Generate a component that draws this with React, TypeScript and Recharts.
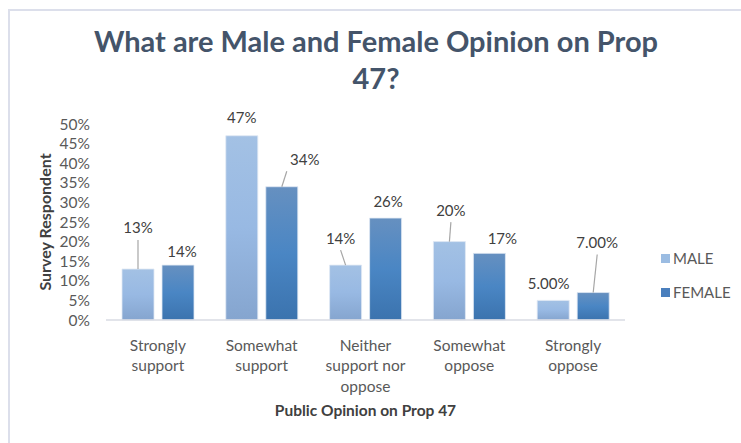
import { Bar, BarChart, LabelList, Legend, XAxis, YAxis } from "recharts";

const categories = [
  "Strongly support",
  "Somewhat support",
  "Neither support nor oppose",
  "Somewhat oppose",
  "Strongly oppose",
];
const maleValues = [13, 47, 14, 20, 5];
const femaleValues = [14, 34, 26, 17, 7];
const maleLabels = ["13%", "47%", "14%", "20%", "5.00%"];
const femaleLabels = ["14%", "34%", "26%", "17%", "7.00%"];
const yTicks = [0, 5, 10, 15, 20, 25, 30, 35, 40, 45, 50];

const data = categories.map((name, i) => ({
  name,
  male: maleValues[i],
  female: femaleValues[i],
}));

// where each data label sits relative to the top centre of its bar: [dx, dy, leader line]
const malePlacement: Array<[number, number, boolean]> = [
  [0, -41, true],
  [0, -18, false],
  [-5, -27, true],
  [1.5, -31.5, true],
  [-4.5, -16.5, false],
];
const femalePlacement: Array<[number, number, boolean]> = [
  [4, -14, false],
  [23, -27.5, true],
  [2.5, -16.5, false],
  [13, -15, false],
  [4, -50, true],
];

const FONT = "Lato, 'Open Sans', sans-serif";
const seriesOrder = ["male", "female"];
const swatch: Record<string, string> = { male: "#9bbce2", female: "#4a7fbd" };

function wrapWords(text: string, max: number) {
  const lines: string[] = [];
  let cur = "";
  for (const w of text.split(" ")) {
    const next = cur ? cur + " " + w : w;
    if (next.length > max && cur) {
      lines.push(cur);
      cur = w;
    } else cur = next;
  }
  if (cur) lines.push(cur);
  return lines;
}

function CategoryTick({ x, y, payload }: any) {
  const lines = wrapWords(payload.value, 11);
  return (
    <text x={x} y={y} textAnchor="middle" fill="#595959" fontSize={15.5} fontFamily={FONT}>
      {lines.map((l, i) => (
        <tspan key={i} x={x} y={y + 22.5 + i * 20.5}>
          {l}
        </tspan>
      ))}
    </text>
  );
}

function makeLabel(texts: string[], placement: Array<[number, number, boolean]>) {
  return (props: any) => {
    const { x, y, width, index } = props;
    const [dx, dy, leader] = placement[index];
    const cx = Number(x) + Number(width) / 2;
    const top = Number(y);
    const lx = cx + dx;
    const ly = top + dy;
    const endX = cx + Math.sign(dx) * Math.min(Math.abs(dx), 5);
    return (
      <g>
        {leader && (
          <line x1={cx} y1={top} x2={endX} y2={ly + 12} stroke="#a6a6a6" strokeWidth={1.2} />
        )}
        <text
          x={lx}
          y={ly}
          dy="0.36em"
          textAnchor="middle"
          fill="#404040"
          fontSize={15}
          fontFamily={FONT}
        >
          {texts[index]}
        </text>
      </g>
    );
  };
}

function LegendBox({ payload }: any) {
  const items = [...(payload || [])].sort(
    (a: any, b: any) => seriesOrder.indexOf(a.dataKey) - seriesOrder.indexOf(b.dataKey)
  );
  return (
    <div style={{ fontFamily: FONT, fontSize: 15, color: "#595959" }}>
      {items.map((p: any) => (
        <div key={p.dataKey} style={{ display: "flex", alignItems: "center", height: 34 }}>
          <span
            style={{
              width: 9,
              height: 9,
              background: swatch[p.dataKey],
              marginRight: 3,
              display: "inline-block",
            }}
          />
          <span>{p.value}</span>
        </div>
      ))}
    </div>
  );
}

export default function App() {
  return (
    <div
      style={{
        position: "absolute",
        left: 0,
        top: 0,
        width: 741,
        height: 443,
        overflow: "hidden",
        background: "#fff",
      }}
    >
      <div
        style={{
          position: "absolute",
          left: 8,
          top: 9,
          width: 800,
          height: 500,
          border: "2px solid #dcdfeb",
          boxSizing: "border-box",
        }}
      />
      <svg width={741} height={110} style={{ position: "absolute", left: 0, top: 0 }}>
        <text
          x={376}
          y={52}
          textAnchor="middle"
          fill="#44546a"
          fontSize={29}
          fontWeight={700}
          fontFamily={FONT}
        >
          What are Male and Female Opinion on Prop
        </text>
        <text
          x={376}
          y={88.5}
          textAnchor="middle"
          fill="#44546a"
          fontSize={29}
          fontWeight={700}
          fontFamily={FONT}
        >
          47?
        </text>
      </svg>
      <div style={{ position: "absolute", left: 0, top: 0 }}>
        <BarChart
          width={741}
          height={443}
          data={data}
          margin={{ top: 124, right: 36, bottom: 0, left: 0 }}
          barSize={32}
          barGap={8}
        >
          <defs>
            <linearGradient id="maleFill" x1="0" y1="0" x2="0" y2="1">
              <stop offset="0%" stopColor="#a3c1e4" />
              <stop offset="50%" stopColor="#98b9e3" />
              <stop offset="100%" stopColor="#85a5cf" />
            </linearGradient>
            <linearGradient id="femaleFill" x1="0" y1="0" x2="0" y2="1">
              <stop offset="0%" stopColor="#6690c0" />
              <stop offset="50%" stopColor="#4a86c4" />
              <stop offset="100%" stopColor="#3b73ae" />
            </linearGradient>
          </defs>
          <XAxis
            dataKey="name"
            height={123}
            tickLine={false}
            stroke="#d9dbe3"
            strokeWidth={1.5}
            interval={0}
            tick={<CategoryTick />}
            label={{
              content: ({ viewBox }: any) => (
                <text
                  x={viewBox.x + viewBox.width / 2}
                  y={viewBox.y + 96}
                  textAnchor="middle"
                  fill="#404040"
                  fontSize={15.5}
                  fontWeight={700}
                  fontFamily={FONT}
                >
                  Public Opinion on Prop 47
                </text>
              ),
            }}
          />
          <YAxis
            width={106}
            domain={[0, 50]}
            ticks={yTicks}
            interval={0}
            tickFormatter={(v) => `${v}%`}
            axisLine={false}
            tickLine={false}
            tickMargin={10}
            tick={{ fill: "#595959", fontSize: 15.5, fontFamily: FONT }}
            label={{
              content: () => (
                <text
                  x={44}
                  y={222}
                  transform="rotate(-90 44 222)"
                  textAnchor="middle"
                  dominantBaseline="central"
                  fill="#404040"
                  fontSize={16}
                  fontWeight={700}
                  fontFamily={FONT}
                >
                  Survey Respondent
                </text>
              ),
            }}
          />
          <Legend
            layout="vertical"
            align="right"
            verticalAlign="top"
            content={<LegendBox />}
            wrapperStyle={{ left: 661, top: 241, width: 80 }}
          />
          <Bar
            dataKey="male"
            name="MALE"
            fill="url(#maleFill)"
            stroke="#dfe8f4"
            strokeWidth={0.8}
            isAnimationActive={false}
          >
            <LabelList dataKey="male" content={makeLabel(maleLabels, malePlacement)} />
          </Bar>
          <Bar
            dataKey="female"
            name="FEMALE"
            fill="url(#femaleFill)"
            stroke="#dfe8f4"
            strokeWidth={0.8}
            isAnimationActive={false}
          >
            <LabelList dataKey="female" content={makeLabel(femaleLabels, femalePlacement)} />
          </Bar>
        </BarChart>
      </div>
    </div>
  );
}
